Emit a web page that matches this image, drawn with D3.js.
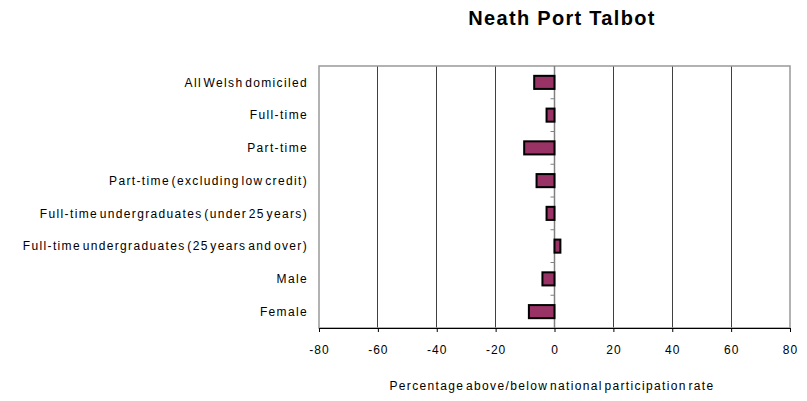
<!DOCTYPE html>
<html><head><meta charset="utf-8">
<script src="https://cdn.jsdelivr.net/npm/d3@7"></script>
<style>
html,body{margin:0;padding:0;background:#fff;}
text{font-family:"Liberation Sans",Arial,sans-serif;fill:#000;}
</style></head>
<body><svg id="c" width="807" height="401"></svg>
<script>
const categories = ["All Welsh domiciled","Full-time","Part-time","Part-time (excluding low credit)","Full-time undergraduates (under 25 years)","Full-time undergraduates (25 years and over)","Male","Female"];
const values = [-6.9,-2.7,-10.3,-6.1,-2.7,2.0,-4.1,-8.7];
const xTicks = [-80,-60,-40,-20,0,20,40,60,80];
const title = "Neath Port Talbot";
const xTitle = "Percentage above/below national participation rate";

const svg = d3.select("#c");
const L = 319, R = 790, T = 66, B = 328;
const x = d3.scaleLinear().domain([-80,80]).range([L,R]);
const y = d3.scaleBand().domain(categories).range([T,B]).paddingInner(0.6).paddingOuter(0.3);
const yb = d3.scaleBand().domain(categories).range([T,B]);

// gridlines
svg.append("g").selectAll("line").data(xTicks.filter(d=>d!==-80&&d!==80&&d!==0)).join("line")
  .attr("x1",d=>x(d)).attr("x2",d=>x(d)).attr("y1",T).attr("y2",B)
  .attr("stroke","#404040").attr("stroke-width",1).attr("shape-rendering","crispEdges");
// plot border
svg.append("rect").attr("x",L).attr("y",T).attr("width",R-L).attr("height",B-T)
  .attr("fill","none").attr("stroke","#999").attr("stroke-width",1.5);

// zero axis with ticks
svg.append("line").attr("x1",x(0)).attr("x2",x(0)).attr("y1",T).attr("y2",B)
  .attr("stroke","#808080").attr("stroke-width",1.5);
svg.append("g").selectAll("line").data(categories.slice(1)).join("line")
  .attr("x1",x(0)-4).attr("x2",x(0)).attr("y1",d=>yb(d)).attr("y2",d=>yb(d))
  .attr("stroke","#808080").attr("stroke-width",1);

// bars
svg.append("g").selectAll("rect").data(values).join("rect")
  .attr("x",(d)=>x(Math.min(0,d))).attr("width",d=>Math.abs(x(d)-x(0)))
  .attr("y",(d,i)=>y(categories[i])).attr("height",y.bandwidth())
  .attr("fill","#993366").attr("stroke","#000").attr("stroke-width",2);

// x axis
const xa = svg.append("g").attr("transform",`translate(0,${B})`)
  .call(d3.axisBottom(x).tickValues(xTicks).tickSize(4).tickPadding(13).tickFormat(d=>String(d)));
xa.select(".domain").attr("stroke","#000");
xa.selectAll(".tick line").attr("stroke","#000");
xa.selectAll("text").attr("font-size",12).style("font-family","Liberation Sans, Arial, sans-serif")
  .style("letter-spacing","1px");

// category labels
svg.append("g").selectAll("text").data(categories).join("text")
  .attr("x",L-11).attr("y",d=>yb(d)+yb.bandwidth()/2).attr("dy","0.35em")
  .attr("text-anchor","end").attr("font-size",12)
  .style("letter-spacing","1.35px").style("word-spacing","-3px").text(d=>d);

// titles
svg.append("text").attr("x",562).attr("y",25).attr("text-anchor","middle")
  .attr("font-size",20).attr("font-weight","bold").style("letter-spacing","1.3px").text(title);
svg.append("text").attr("x",552).attr("y",390).attr("text-anchor","middle")
  .attr("font-size",12).style("letter-spacing","1.35px").style("word-spacing","-3px").text(xTitle);
</script></body></html>
